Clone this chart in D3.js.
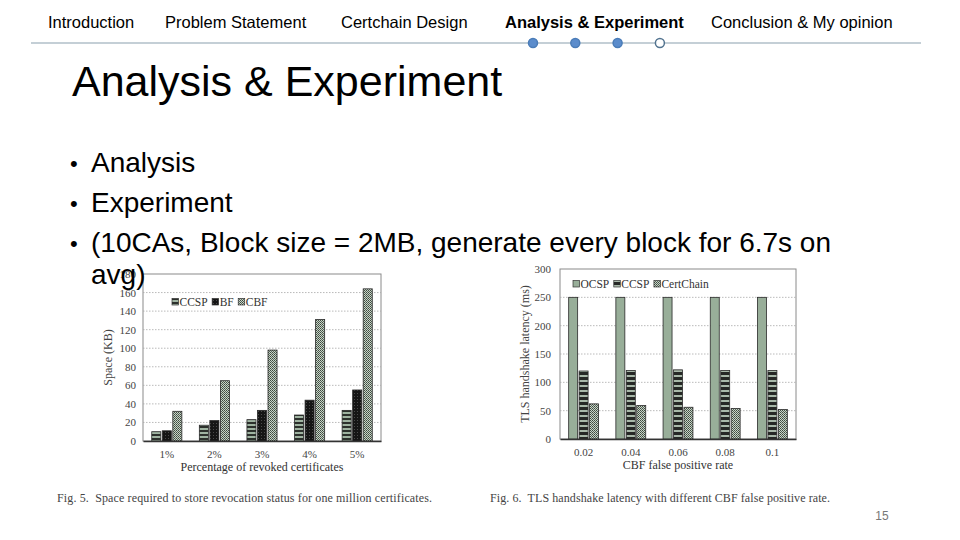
<!DOCTYPE html>
<html>
<head>
<meta charset="utf-8">
<script src="https://cdn.jsdelivr.net/npm/d3@7"></script>
<style>
  html, body { margin: 0; padding: 0; background: #fff; }
  svg { display: block; }
  .sans { font-family: "Liberation Sans", Arial, sans-serif; }
  .serif { font-family: "Liberation Serif", "Times New Roman", serif; }
</style>
</head>
<body>
<svg id="slide" width="960" height="540"></svg>
<script>
// navigation + slide text
var navItems = ["Introduction", "Problem Statement", "Certchain Design", "Analysis & Experiment", "Conclusion & My opinion"];
var navActive = 3;
var navDots = [true, true, true, false];
var slideTitle = "Analysis & Experiment";
var bullets = ["Analysis", "Experiment", "(10CAs, Block size = 2MB, generate every block for 6.7s on|avg)"];
var pageNumber = "15";

// Fig. 5 - space
var spaceCats = ["1%", "2%", "3%", "4%", "5%"];
var spaceSeries = ["CCSP", "BF", "CBF"];
var spaceCCSP = [10, 17, 23, 28, 33];
var spaceBF = [11, 22, 33, 44, 55];
var spaceCBF = [32, 65, 98, 131, 164];
var spaceTicks = [0, 20, 40, 60, 80, 100, 120, 140, 160, 180];

// Fig. 6 - latency
var fpCats = ["0.02", "0.04", "0.06", "0.08", "0.1"];
var latSeries = ["OCSP", "CCSP", "CertChain"];
var latOCSP = [250, 250, 250, 250, 250];
var latCCSP = [120, 121, 122, 121, 121];
var latCertChain = [62, 59, 56, 54, 52];
var latTicks = [0, 50, 100, 150, 200, 250, 300];

var svg = d3.select("#slide");
var defs = svg.append("defs");

function stripes(id, h, light, dark, lightH) {
	var p = defs.append("pattern").attr("id", id).attr("patternUnits", "userSpaceOnUse")
		.attr("width", 6).attr("height", h);
	p.append("rect").attr("width", 6).attr("height", h).attr("fill", dark);
	p.append("rect").attr("width", 6).attr("height", lightH).attr("fill", light);
}
stripes("stripeL", 4, "#9fb3a1", "#2c302c", 2);
stripes("stripeR", 5, "#a9b9aa", "#262826", 2);

var chk = defs.append("pattern").attr("id", "checker").attr("patternUnits", "userSpaceOnUse")
	.attr("width", 2).attr("height", 2);
chk.append("rect").attr("width", 2).attr("height", 2).attr("fill", "#c7d5c6");
chk.append("rect").attr("width", 1).attr("height", 1).attr("fill", "#3e483e");
chk.append("rect").attr("x", 1).attr("y", 1).attr("width", 1).attr("height", 1).attr("fill", "#56625a");

var dots = defs.append("pattern").attr("id", "dark").attr("patternUnits", "userSpaceOnUse")
	.attr("width", 3).attr("height", 3);
dots.append("rect").attr("width", 3).attr("height", 3).attr("fill", "#151515");
dots.append("rect").attr("width", 1).attr("height", 1).attr("fill", "#4a4a4a");

var fills = {
	left: ["url(#stripeL)", "url(#dark)", "url(#checker)"],
	right: ["#98ae99", "url(#stripeR)", "url(#checker)"]
};

function barChart(opts) {
	var g = svg.append("g").attr("class", "serif");
	var x0 = d3.scaleBand().domain(opts.cats).range([opts.x, opts.x + opts.w]).padding(0);
	var x1 = d3.scaleBand().domain(opts.series).range([0, x0.bandwidth()])
		.paddingInner(0.14).paddingOuter(0.83);
	var y = d3.scaleLinear().domain([0, opts.max]).range([opts.y + opts.h, opts.y]);

	g.append("rect").attr("x", opts.x).attr("y", opts.y).attr("width", opts.w).attr("height", opts.h)
		.attr("fill", "#fff").attr("stroke", "#8a8a8a").attr("stroke-width", 1);

	// dotted gridlines
	g.selectAll("line.grid").data(opts.ticks.filter(function(t){ return t > 0 && t < opts.max; }))
		.enter().append("line").attr("class", "grid")
		.attr("x1", opts.x).attr("x2", opts.x + opts.w)
		.attr("y1", function(d){ return y(d); }).attr("y2", function(d){ return y(d); })
		.attr("stroke", "#a8a8a8").attr("stroke-width", 0.8).attr("stroke-dasharray", "1.5,1.5");

	var yAxis = g.append("g").attr("transform", "translate(" + opts.x + ",0)")
		.call(d3.axisLeft(y).tickValues(opts.ticks).tickSize(0).tickPadding(opts.tickPad));
	yAxis.attr("font-family", null).attr("font-size", null);
	yAxis.select(".domain").remove();
	yAxis.selectAll("text").attr("font-size", 11).attr("fill", "#444");

	opts.values.forEach(function(vals, si) {
		g.selectAll(null).data(vals).enter().append("rect")
			.attr("x", function(d, i){ return x0(opts.cats[i]) + x1(opts.series[si]); })
			.attr("y", function(d){ return y(d); })
			.attr("width", x1.bandwidth())
			.attr("height", function(d){ return y(0) - y(d); })
			.attr("fill", opts.fills[si])
			.attr("stroke", "#2a2a2a").attr("stroke-width", 0.8);
	});

	var xAxis = g.append("g").attr("transform", "translate(0," + (opts.y + opts.h) + ")")
		.call(d3.axisBottom(x0).tickSize(0).tickPadding(9));
	xAxis.attr("font-family", null).attr("font-size", null);
	xAxis.select(".domain").attr("stroke", "#333").attr("stroke-width", 1.6);
	xAxis.selectAll("text").attr("font-size", 11).attr("fill", "#444");

	g.append("text").attr("x", opts.x + opts.w / 2).attr("y", opts.y + opts.h + 30)
		.attr("text-anchor", "middle").attr("font-size", 12).attr("fill", "#333").text(opts.xTitle);
	g.append("text").attr("transform", "translate(" + opts.yTitleX + "," + (opts.y + opts.h / 2) + ") rotate(-90)")
		.attr("text-anchor", "middle").attr("font-size", 12).attr("fill", "#444").text(opts.yTitle);

	// legend
	var lx = opts.legendX;
	opts.series.forEach(function(s, si) {
		g.append("rect").attr("x", lx).attr("y", opts.legendY - 3.5).attr("width", 6.5).attr("height", 6.5)
			.attr("fill", opts.fills[si]).attr("stroke", "#333").attr("stroke-width", 0.7);
		var t = g.append("text").attr("x", lx + 7.5).attr("y", opts.legendY + 4)
			.attr("font-size", 11.5).attr("fill", "#333").text(s);
		lx += 7.5 + t.node().getComputedTextLength() + 4.5;
	});

	g.append("text").attr("x", opts.capX).attr("y", 502).attr("font-size", 12).attr("fill", "#444")
		.attr("textLength", opts.capW).attr("lengthAdjust", "spacing")
		.attr("xml:space", "preserve").text(opts.caption);
}

barChart({
	cats: spaceCats, series: spaceSeries, values: [spaceCCSP, spaceBF, spaceCBF], fills: fills.left,
	max: 180, ticks: spaceTicks, x: 143, y: 274, w: 238, h: 167, tickPad: 7,
	xTitle: "Percentage of revoked certificates", yTitle: "Space (KB)", yTitleX: 112,
	legendX: 172, legendY: 302,
	capX: 57, capW: 375, caption: "Fig. 5.  Space required to store revocation status for one million certificates."
});

barChart({
	cats: fpCats, series: latSeries, values: [latOCSP, latCCSP, latCertChain], fills: fills.right,
	max: 300, ticks: latTicks, x: 560, y: 269, w: 236, h: 170, tickPad: 9,
	xTitle: "CBF false positive rate", yTitle: "TLS handshake latency (ms)", yTitleX: 529,
	legendX: 573, legendY: 284,
	capX: 490, capW: 340, caption: "Fig. 6.  TLS handshake latency with different CBF false positive rate."
});

// header navigation
var navX = [48, 165, 341, 505, 711];
svg.append("line").attr("x1", 31).attr("x2", 921).attr("y1", 43).attr("y2", 43)
	.attr("stroke", "#8aa0ad").attr("stroke-width", 1.2);
svg.selectAll("text.nav").data(navItems).enter().append("text")
	.attr("class", "nav sans")
	.attr("x", function(d, i){ return navX[i]; }).attr("y", 28)
	.attr("font-size", 16.5).attr("fill", "#000")
	.attr("font-weight", function(d, i){ return i === navActive ? "bold" : "normal"; })
	.text(function(d){ return d; });
svg.selectAll("circle.dot").data(navDots).enter().append("circle")
	.attr("cx", function(d, i){ return 533 + i * 42.3; }).attr("cy", 43).attr("r", 4.5)
	.attr("fill", function(d){ return d ? "#5b8ccc" : "#fff"; })
	.attr("stroke", function(d){ return d ? "#4a7cb8" : "#52738f"; }).attr("stroke-width", 1.5);

// title and bullets
svg.append("text").attr("class", "sans").attr("x", 72).attr("y", 96)
	.attr("font-size", 43).attr("fill", "#000").text(slideTitle);

var by = 172;
bullets.forEach(function(b) {
	var lines = b.split("|");
	svg.append("text").attr("class", "sans").attr("x", 70).attr("y", by - 1)
		.attr("font-size", 22).attr("fill", "#000").text("\u2022");
	lines.forEach(function(l, li) {
		svg.append("text").attr("class", "sans").attr("x", 91).attr("y", by + li * 32)
			.attr("font-size", 28).attr("fill", "#000").text(l);
	});
	by += 40 + (lines.length - 1) * 32;
});

svg.append("text").attr("class", "sans").attr("x", 882).attr("y", 520).attr("text-anchor", "middle")
	.attr("font-size", 12).attr("fill", "#777").text(pageNumber);
</script>
</body>
</html>
